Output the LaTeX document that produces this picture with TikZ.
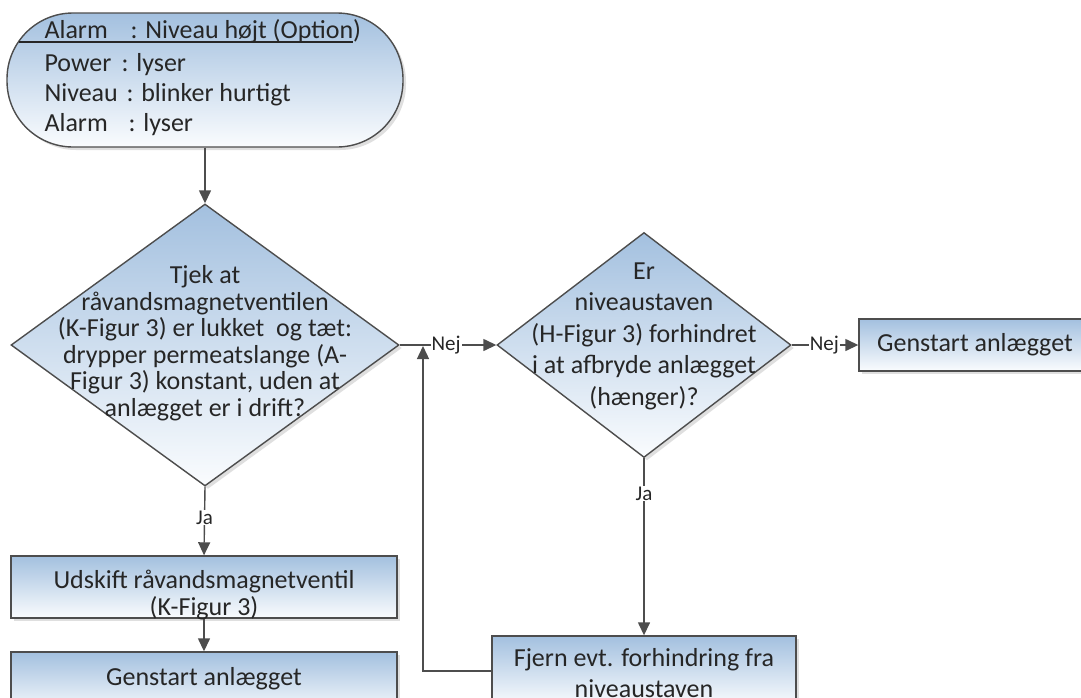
\documentclass[tikz,border=0pt]{standalone}
\usepackage{fontspec}
\setmainfont{Carlito}
\usetikzlibrary{shapes.geometric,arrows.meta,shadows}
\definecolor{topblue}{RGB}{163,192,223}
\definecolor{botblue}{RGB}{250,252,254}
\definecolor{edge}{RGB}{77,77,77}
\definecolor{ink}{RGB}{38,38,38}
\tikzset{
  filled/.style={draw=edge, line width=1.4pt, top color=topblue, bottom color=botblue,
    drop shadow={shadow xshift=3pt, shadow yshift=-3pt, fill=black!25, opacity=.5}},
  dia/.style={filled, shape=diamond, inner sep=0pt},
  procbox/.style={filled, rectangle, inner sep=0pt},
  txt/.style={text=ink, align=center, font=\fontsize{26}{26.5}\selectfont},
  txtwide/.style={text=ink, align=center, font=\fontsize{26}{31.5}\selectfont},
  arr/.style={draw=edge, line width=1.4pt, -{Triangle[length=13pt,width=12pt]}},
  lbl/.style={fill=white, text=ink, inner sep=1pt, font=\fontsize{21}{23}\selectfont},
  ln/.style={text=ink, anchor=base west, font=\fontsize{26}{30}\selectfont}
}
\begin{document}
\begin{tikzpicture}[x=1pt,y=-1pt]
\useasboundingbox (0,0) rectangle (1081,697);
% top terminal
\node[filled, rectangle, rounded corners=66pt, minimum width=396pt, minimum height=134pt, inner sep=0pt] (t) at (205,80) {};
\draw[ink, line width=1.2pt] (19,42) -- (353,42);
\node[ln] (t1) at (41,38) {\makebox[86pt][l]{Alarm}: Niveau højt (Option)};
\node[ln] (t2) at (41,71) {\makebox[77pt][l]{Power}: lyser};
\node[ln] (t3) at (41,101) {\makebox[82pt][l]{Niveau}: blinker hurtigt};
\node[ln] (t4) at (41,131) {\makebox[84pt][l]{Alarm}: lyser};
% diamond 1
\node[dia, minimum width=388pt, minimum height=282pt] (d1) at (205,345) {};
\node[txt] (d1t) at (205,343) {Tjek at\\råvandsmagnetventilen\\(K-Figur 3) er lukket\ \ og tæt:\\drypper permeatslange (A-\\Figur 3) konstant, uden at\\anlægget er i drift?};
% diamond 2
\node[dia, minimum width=294pt, minimum height=225pt] (d2) at (644,345) {};
\node[txtwide] (d2t) at (644,336) {Er\\niveaustaven\\(H-Figur 3) forhindret\\i at afbryde anlægget\\(hænger)?};
% boxes
\node[procbox, minimum width=232pt, minimum height=52pt] (g2) at (975,345) {};
\node[txt] (g2t) at (g2.center) {Genstart anlægget};
\node[procbox, minimum width=386pt, minimum height=62pt] (b1) at (204,587) {};
\node[txt] (b1t) at (204,595) {Udskift råvandsmagnetventil\\(K-Figur 3)};
\node[procbox, minimum width=386pt, minimum height=62pt] (b2) at (204,683) {};
\node[txt] (b2t) at (204,679) {Genstart anlægget};
\node[procbox, minimum width=304pt, minimum height=70pt] (f) at (644,671) {};
\node[txtwide] (ft) at (644,673) {Fjern evt. forhindring fra\\niveaustaven};
\coordinate (j) at (423,346);
% connectors
\draw[arr] (t.south) -- (d1.north);
\draw[arr] (d1.east) -- node[lbl, pos=0.48] {Nej} (d2.west);
\draw[arr] (d2.east) -- node[lbl, pos=0.49] {Nej} (g2.west);
\draw[arr] (d1.south) -- node[lbl, pos=0.45] {Ja} (b1.north);
\draw[arr] (b1.south) -- (b2.north);
\draw[arr] (d2.south) -- node[lbl, pos=0.2] {Ja} (f.north);
\draw[arr] (f.west) -| (j);
\end{tikzpicture}
\end{document}
